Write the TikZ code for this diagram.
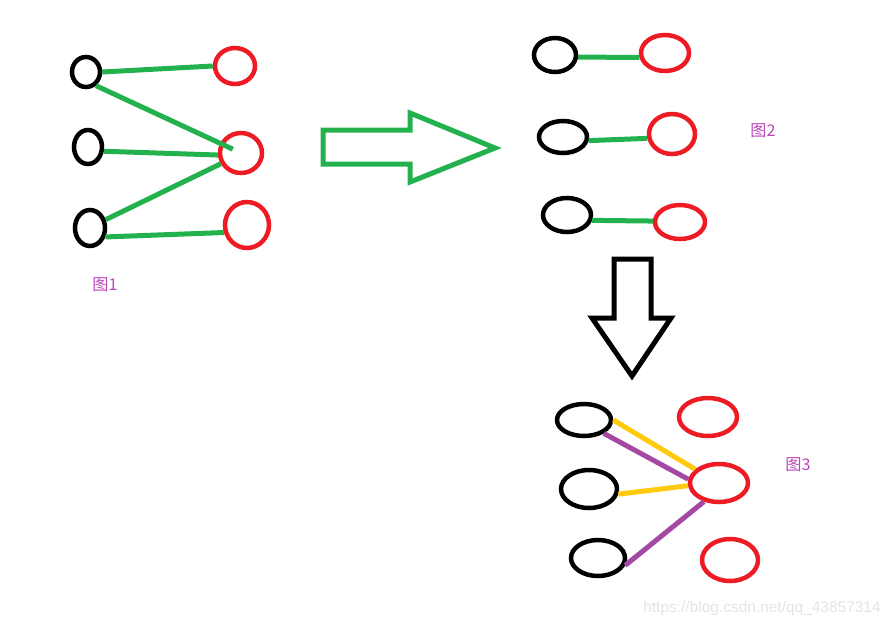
\documentclass[tikz,border=0pt]{standalone}
\usepackage{fontspec}
\newfontfamily\cjk{Noto Sans CJK SC}
\newfontfamily\wmfont{Liberation Sans}
\usepackage{tikz}
\usetikzlibrary{shapes.geometric}
\definecolor{paintgreen}{RGB}{34, 177, 76}
\definecolor{paintred}{RGB}{237, 28, 36}
\definecolor{paintyellow}{RGB}{255, 201, 14}
\definecolor{paintpurple}{RGB}{163, 73, 164}
\definecolor{lblpurple}{RGB}{185, 72, 185}
\definecolor{wmgray}{RGB}{228, 228, 228}
\newlength\pu
\setlength\pu{0.025cm}

\tikzset{
  blk/.style={ellipse, draw=black, line width=4.5\pu, inner sep=0pt},
  rd/.style={ellipse, draw=paintred, line width=4.5\pu, inner sep=0pt},
  lnk/.style={line width=5\pu},
  lbl/.style={font=\cjk\fontsize{11.5}{13}\selectfont, text=lblpurple},
}

\begin{document}
\begin{tikzpicture}[x=1\pu, y=-1\pu]
    \useasboundingbox (0,0) rectangle (894,626);
    % figure 1 nodes
    \foreach \n/\x/\y/\w/\h in {b1/86/72/28/30, b2/88/147/28/34, b3/90/228/30/36}
      \node[blk, minimum width=\w\pu, minimum height=\h\pu] (\n) at (\x,\y) {};
    \foreach \n/\x/\y/\w/\h in {r1/235/66/40/36, r2/241/153/42/40, r3/247/225/44/46}
      \node[rd, minimum width=\w\pu, minimum height=\h\pu] (\n) at (\x,\y) {};
    \draw[lnk, paintgreen] (b1.east) -- (r1.west);
    \draw[lnk, paintgreen, shorten >=9\pu] (b1.-54) -- (r2.center);
    \draw[lnk, paintgreen] (b2.-15) -- (r2.185);
    \draw[lnk, paintgreen] (b3.28) -- (r2.208);
    \draw[lnk, paintgreen] (b3.-30) -- (r3.198);
    \node[lbl] (lbl1) at (105,285) {图1};
    % right arrow
    \draw[lnk, paintgreen, line join=miter]
      (323,130) -- (410,130) -- (410,113) -- (495,148) -- (410,182)
      -- (410,164) -- (323,164) -- cycle;
    % figure 2 nodes
    \foreach \n/\x/\y/\w/\h in {e1/555/55/42/34, e2/563/137/48/32, e3/567/215/48/34}
      \node[blk, minimum width=\w\pu, minimum height=\h\pu] (\n) at (\x,\y) {};
    \foreach \n/\x/\y/\w/\h in {f1/665/53/48/36, f2/672/134/46/40, f3/680/222/50/34}
      \node[rd, minimum width=\w\pu, minimum height=\h\pu] (\n) at (\x,\y) {};
    \foreach \a/\s/\b/\t in {e1/-5/f1/190, e2/-8/f2/190, e3/-12/f3/178}
      \draw[lnk, paintgreen] (\a.\s) -- (\b.\t);
    \node[lbl] (lbl2) at (763,131) {图2};
    % down arrow
    \draw[lnk, black, line join=miter]
      (614,259) -- (651,259) -- (651,318) -- (671,318) -- (632,376)
      -- (592,318) -- (614,318) -- cycle;
    % figure 3 nodes
    \foreach \n/\x/\y/\w/\h in {g1/584/420/54/32, g2/589/489/56/38, g3/598/558/54/36}
      \node[blk, minimum width=\w\pu, minimum height=\h\pu] (\n) at (\x,\y) {};
    \foreach \n/\x/\y/\w/\h in {h1/708/417/58/38, h2/719/483/58/38, h3/730/560/56/42}
      \node[rd, minimum width=\w\pu, minimum height=\h\pu] (\n) at (\x,\y) {};
    \draw[lnk, paintpurple] (g1.-34) -- (h2.173);
    \draw[lnk, paintpurple] (g3.-15) -- (h2.231);
    \draw[lnk, paintyellow] (g1.east) -- (h2.150);
    \draw[lnk, paintyellow] (g2.-10) -- (h2.185);
    \node[lbl] (lbl3) at (798,465) {图3};
    % watermark
    \node[font=\wmfont\fontsize{11}{13}\selectfont, text=wmgray] (wm) at (762,608)
      {https://blog.csdn.net/qq\_43857314};
\end{tikzpicture}
\end{document}
